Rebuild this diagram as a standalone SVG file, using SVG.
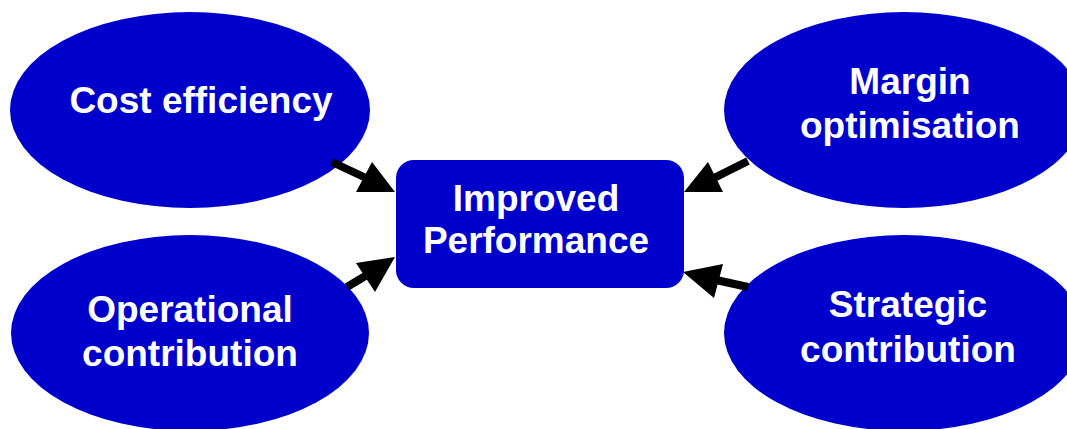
<svg xmlns="http://www.w3.org/2000/svg" width="1067" height="429" viewBox="0 0 1067 429">
  <style>
    .node { fill: #0000CC; }
    .label { fill: #FFFFFF; font-family: "Liberation Sans", Arial, sans-serif; font-weight: bold; font-size: 37px; text-anchor: middle; }
    .shaft { stroke: #000000; stroke-width: 8; fill: none; }
    .head { fill: #000000; }
  </style>
  <rect width="1067" height="429" fill="#FFFFFF"/>

  <g id="cost-efficiency">
    <ellipse class="node" cx="190" cy="110" rx="180" ry="98"/>
    <text class="label" x="201" y="113">Cost efficiency</text>
  </g>

  <g id="margin-optimisation">
    <ellipse class="node" cx="904" cy="110" rx="180" ry="98"/>
    <text class="label" x="910" y="94">Margin</text>
    <text class="label" x="910" y="138">optimisation</text>
  </g>

  <g id="operational-contribution">
    <ellipse class="node" cx="190" cy="333" rx="179" ry="98"/>
    <text class="label" x="190" y="322">Operational</text>
    <text class="label" x="190" y="366">contribution</text>
  </g>

  <g id="strategic-contribution">
    <ellipse class="node" cx="904" cy="333" rx="180" ry="98"/>
    <text class="label" x="908" y="317">Strategic</text>
    <text class="label" x="908" y="362">contribution</text>
  </g>

  <g id="improved-performance">
    <rect class="node" x="396" y="160" width="288" height="128" rx="18" ry="18"/>
    <text class="label" x="536" y="211">Improved</text>
    <text class="label" x="536" y="253">Performance</text>
  </g>

  <g id="connectors">
    <line class="shaft" x1="332" y1="162" x2="366" y2="178"/>
    <polygon class="head" points="372,162 356,192 395,192"/>

    <line class="shaft" x1="347" y1="287" x2="367" y2="275"/>
    <polygon class="head" points="356,263 395,257 375,292"/>

    <line class="shaft" x1="748" y1="161" x2="714" y2="178"/>
    <polygon class="head" points="708,162 684,192 723,192"/>

    <line class="shaft" x1="748" y1="287" x2="716" y2="280"/>
    <polygon class="head" points="683,272 723,264 714,298"/>
  </g>
</svg>
